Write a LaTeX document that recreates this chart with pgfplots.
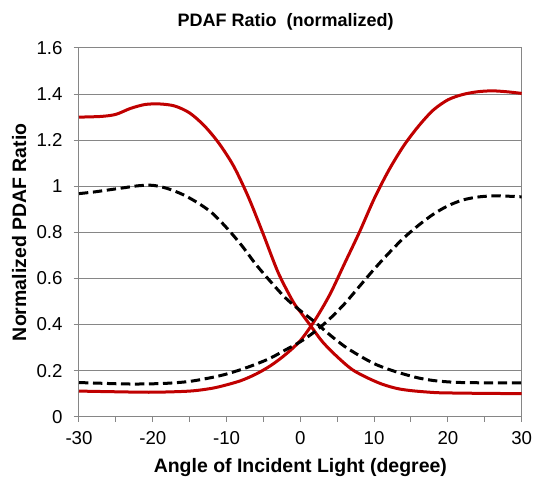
\documentclass[border=0pt]{standalone}
\usepackage{fontspec}
\setmainfont{Liberation Sans}
\usepackage{pgfplots}
\pgfplotsset{compat=1.18}
\definecolor{exred}{RGB}{192,0,0}
\definecolor{gridgray}{RGB}{134,134,134}
\begin{document}
\fontsize{14}{17}\selectfont
\begin{tikzpicture}
\path[use as bounding box] (-59.25pt,-48.2pt) rectangle (340.5pt,312.5pt);
\begin{axis}[
 at={(0,0)}, anchor=south west,
 scale only axis, width=332pt, height=276.5pt,
 xmin=-30, xmax=30, ymin=0, ymax=1.6,
 xtick={-30,-20,-10,0,10,20,30}, minor xtick={-25,-15,-5,5,15,25},
 ytick={0,0.2,0.4,0.6,0.8,1,1.2,1.4,1.6},
 tick align=outside, xtick pos=bottom, ytick pos=left,
 major tick length=4pt, minor tick length=4pt,
 tick style={gridgray, line width=0.75pt},
 ymajorgrids, grid style={gridgray, line width=0.75pt},
 axis line style={gridgray, line width=0.75pt},
 /pgf/number format/assume math mode=true,
 xticklabel style={anchor=base, yshift=-17.2pt, inner sep=0pt, text=black},
 yticklabel style={anchor=east, xshift=-8.2pt, inner sep=0pt, text=black},
 title={PDAF Ratio\ \ (normalized)},
 title style={font=\fontsize{13.5}{16}\selectfont\bfseries, at={(axis description cs:0.467,1.0579)}, anchor=base, inner sep=0pt, yshift=-6pt},
 xlabel={Angle of Incident Light (degree)},
 xlabel style={font=\fontsize{14.6}{17}\selectfont\bfseries, at={(axis description cs:0.5,-0.1527)}, anchor=base, inner sep=0pt},
 ylabel={Normalized PDAF Ratio},
 ylabel style={font=\fontsize{14.6}{17}\selectfont\bfseries, at={(axis description cs:-0.1197,0.5)}, anchor=base, inner sep=0pt},
 clip=false,
]
% red decreasing
\addplot[exred, line width=2.25pt, smooth, line join=round] coordinates {
(-30,1.300) (-27,1.303) (-25,1.312) (-23,1.338) (-21,1.355) (-19,1.357) (-17,1.348)
(-15,1.318) (-13,1.262) (-11,1.185) (-9,1.085) (-7,0.95) (-5,0.79) (-3,0.625) (-1,0.50)
(0,0.455) (1.5,0.39) (3,0.325) (5,0.26) (7,0.205) (9,0.17) (11,0.142) (13,0.123)
(15,0.113) (18,0.105) (20,0.103) (25,0.101) (30,0.100)};
% red increasing
\addplot[exred, line width=2.25pt, smooth, line join=round] coordinates {
(-30,0.111) (-25,0.108) (-20,0.106) (-15,0.111) (-12,0.123) (-10,0.138) (-8,0.157)
(-6,0.185) (-4,0.222) (-2,0.27) (0,0.33) (2,0.42) (4,0.53) (6,0.665) (8,0.80)
(10,0.945) (12,1.07) (14,1.175) (16,1.26) (18,1.33) (20,1.375) (22,1.398) (24,1.41)
(26,1.414) (28,1.41) (30,1.403)};
% black dashed decreasing
\addplot[black, line width=2.25pt, smooth, dash pattern=on 7pt off 3.5pt] coordinates {
(-30,0.968) (-28,0.975) (-26,0.984) (-24,0.993) (-22,1.002) (-20,1.004) (-18,0.99)
(-16,0.965) (-14,0.93) (-12,0.885) (-10,0.82) (-8,0.745) (-6,0.66) (-4,0.585)
(-2,0.515) (0,0.46) (2,0.41) (4,0.355) (6,0.305) (8,0.265) (10,0.23) (12,0.205)
(14,0.185) (16,0.168) (18,0.157) (20,0.151) (22,0.148) (25,0.147) (30,0.147)};
% black dashed increasing
\addplot[black, line width=2.25pt, smooth, dash pattern=on 7pt off 3.5pt] coordinates {
(-30,0.148) (-27,0.145) (-24,0.142) (-21,0.142) (-18,0.145) (-15,0.153) (-12,0.17)
(-10,0.185) (-8,0.205) (-6,0.228) (-4,0.255) (-2,0.29) (0,0.325) (2,0.37) (4,0.425)
(6,0.49) (8,0.565) (10,0.64) (12,0.71) (14,0.775) (16,0.83) (18,0.878) (20,0.915)
(22,0.94) (24,0.953) (26,0.958) (28,0.957) (30,0.954)};
\end{axis}
\end{tikzpicture}
\end{document}
